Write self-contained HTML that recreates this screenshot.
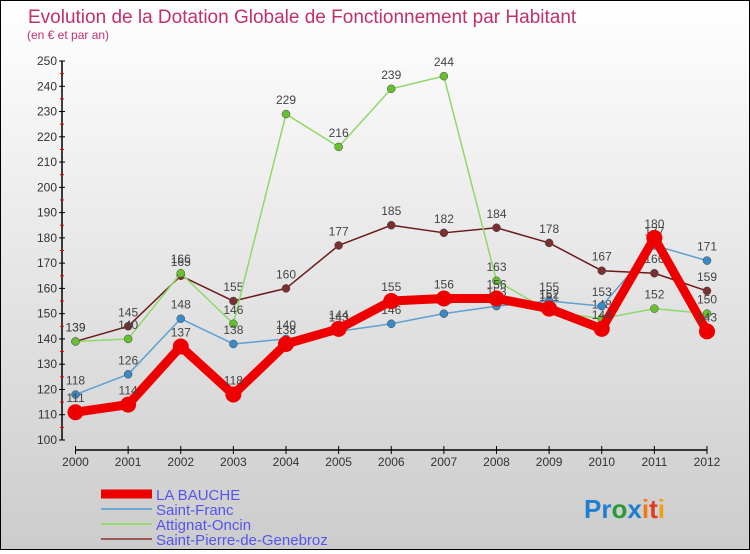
<!DOCTYPE html>
<html><head><meta charset="utf-8">
<style>
html,body{margin:0;padding:0;}
body{width:750px;height:550px;overflow:hidden;font-family:"Liberation Sans",sans-serif;}
#wrap{position:relative;width:748px;height:548px;border:1px solid #000;background:linear-gradient(#ffffff,#cccccc);}
</style></head><body>
<div id="wrap">
<svg id="chart" width="748" height="548">
<text x="27" y="22" font-size="19" fill="#c0306a">Evolution de la Dotation Globale de Fonctionnement par Habitant</text>
<text x="26" y="38" font-size="12" fill="#c0306a">(en € et par an)</text>
<g id="axes"></g><g id="series"></g><g id="legend"></g>
<text x="583" y="517" font-size="26" font-weight="bold"><tspan fill="#1e7fd0">Pr</tspan><tspan fill="#2a9a3a">o</tspan><tspan fill="#1e7fd0">x</tspan><tspan fill="#f07a10">i</tspan><tspan fill="#e03a20">t</tspan><tspan fill="#f0a010">i</tspan></text>
</svg>
</div>
<script>
const years=[2000,2001,2002,2003,2004,2005,2006,2007,2008,2009,2010,2011,2012];
const yTicks=[100,110,120,130,140,150,160,170,180,190,200,210,220,230,240,250];
const seriesNames=["LA BAUCHE","Saint-Franc","Attignat-Oncin","Saint-Pierre-de-Genebroz"];
const laBauche=[111,114,137,118,138,144,155,156,156,152,144,180,143];
const saintFranc=[118,126,148,138,140,143,146,150,153,155,153,177,171];
const attignat=[139,140,166,146,229,216,239,244,163,151,148,152,150];
const saintPierre=[139,145,165,155,160,177,185,182,184,178,167,166,159];
const NS="http://www.w3.org/2000/svg";
function xS(i){return 74.5+i*(706-74.5)/(years.length-1);}
function yS(v){return 439-(v-100)*(379/150);}
function mk(tag,attrs,parent){const e=document.createElementNS(NS,tag);for(const k in attrs)e.setAttribute(k,attrs[k]);parent.appendChild(e);return e;}
const ax=document.getElementById('axes');
let yl=mk('line',{x1:61,y1:yS(250),x2:61,y2:yS(100),stroke:'#000','stroke-width':1.5},ax);


yTicks.forEach((v,i)=>{
 let t=mk('line',{x1:58,x2:64,y1:yS(v),y2:yS(v),stroke:'#000'},ax);
 
 
 if(i<yTicks.length-1){let m=mk('line',{x1:59,x2:63,y1:yS(v+5),y2:yS(v+5),stroke:'#e00'},ax);
 
 }
 let tx=mk('text',{x:56,y:yS(v)+4,'text-anchor':'end','font-size':12,fill:'#333'},ax);tx.textContent=v;
 
 
});
let xl=mk('line',{x1:xS(0),x2:xS(12),y1:449,y2:449,stroke:'#000','stroke-width':1.5},ax);


years.forEach((y,i)=>{
 let t=mk('line',{x1:xS(i),x2:xS(i),y1:445,y2:453,stroke:'#000'},ax);
 
 
 let tx=mk('text',{x:xS(i),y:465,'text-anchor':'middle','font-size':12,fill:'#333'},ax);tx.textContent=y;
 
 
});
const sg=document.getElementById('series');
const defs=[[saintPierre,'#6b1a1a','#7a3030',1.5,4],[attignat,'#8fd86a','#66c030',1.5,4],[saintFranc,'#5fa0d0','#3a8ac8',1.5,4],[laBauche,'#ee0000','#ee0000',9,8]];
const names=['saint-pierre','attignat-oncin','saint-franc','la-bauche'];
defs.forEach((d,si)=>{
 const [vals,lc,pc,w,r]=d;
 let p=mk('polyline',{points:vals.map((v,i)=>xS(i)+','+yS(v)).join(' '),fill:'none',stroke:lc,'stroke-width':w,'stroke-linejoin':'round'},sg);
 
 
 vals.forEach((v,i)=>{
  let c=mk('circle',{cx:xS(i),cy:yS(v),r:r,fill:pc,stroke:si==3?'none':'#444','stroke-width':0.5},sg);
  
  
  let t=mk('text',{x:xS(i),y:yS(v)-10,'text-anchor':'middle','font-size':12,fill:'#444'},sg);t.textContent=v;
  
  
 });
});
const lg=document.getElementById('legend');
const lcols=['#ee0000','#6fa8d0','#9ad870','#9a5a5a'];const lw=[9,2,2,2];
seriesNames.forEach((n,i)=>{
 const y=493+i*15;
 let l=mk('line',{x1:100,x2:151,y1:y,y2:y,stroke:lcols[i],'stroke-width':lw[i]},lg);
 
 
 let t=mk('text',{x:155,y:y+6,'font-size':15,fill:'#5555ee'},lg);t.textContent=n;
 
 
});
</script>
</body></html>
